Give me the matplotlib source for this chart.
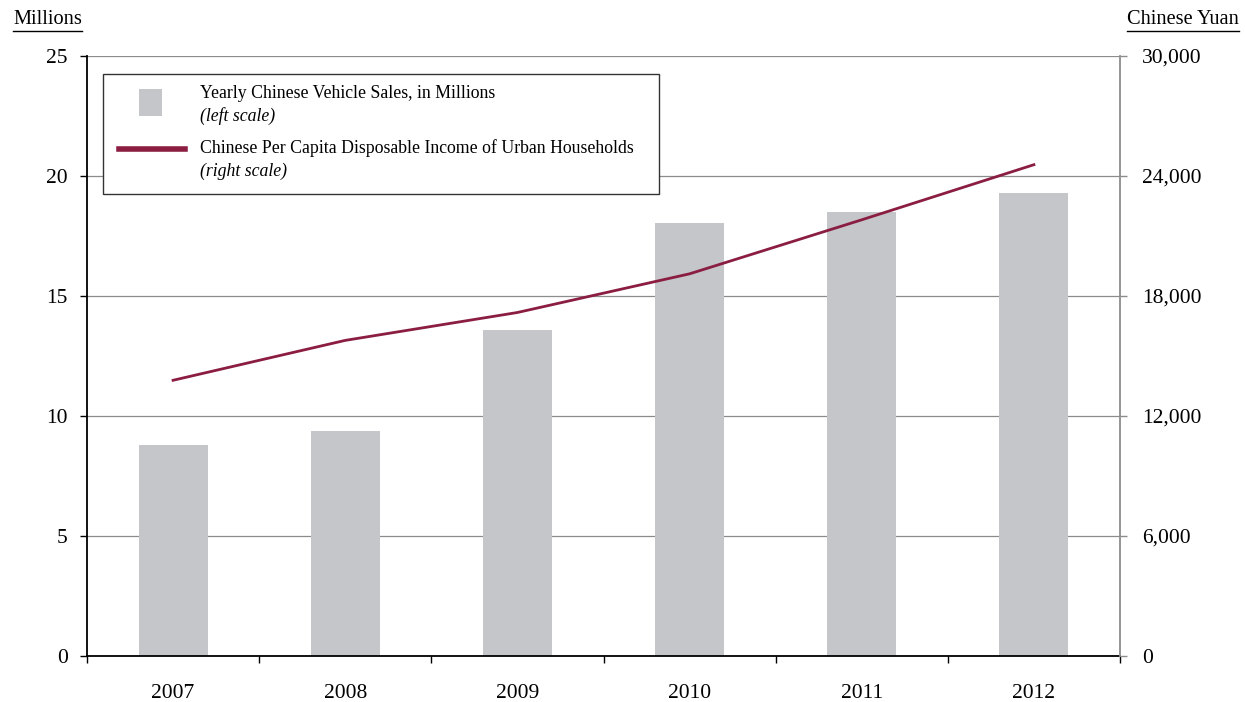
import matplotlib
matplotlib.use("Agg")
import matplotlib.pyplot as plt
from matplotlib.patches import Rectangle
from matplotlib.lines import Line2D
from matplotlib.ticker import FuncFormatter, FixedLocator

years = ["2007", "2008", "2009", "2010", "2011", "2012"]
vehicle_sales = [8.8, 9.38, 13.6, 18.04, 18.5, 19.3]
urban_income = [13786, 15781, 17175, 19109, 21810, 24565]
left_ticks = [0, 5, 10, 15, 20, 25]
right_ticks = [0, 6000, 12000, 18000, 24000, 30000]

BAR = "#C4C6CA"
LINE = "#8B1D41"
GRID = "#8C8C8C"
FONT = "Liberation Serif"
plt.rcParams["font.family"] = [FONT, "DejaVu Serif"]

fig = plt.figure(figsize=(12.45, 7.02), dpi=100)
ax = fig.add_axes([87/1245, 46/702, (1120-87)/1245, 600/702])
x = list(range(len(years)))
ax.bar(x, vehicle_sales, width=0.4, color=BAR, zorder=2)
ax.set_xlim(-0.5, len(years) - 0.5)
ax.set_ylim(0, 25)
ax.set_yticks(left_ticks)
ax.yaxis.grid(True, color=GRID, linewidth=0.9)
ax.set_axisbelow(True)
ax.set_xticks(x)
ax.set_xticklabels(years)
ax.xaxis.set_minor_locator(FixedLocator([i - 0.5 for i in range(len(years) + 1)]))
ax.tick_params(axis="x", which="major", length=0, pad=20, labelsize=15.5)
ax.tick_params(axis="x", which="minor", length=5, width=1, direction="out", color="black")
ax.tick_params(axis="y", length=5, width=1, direction="out", pad=9, labelsize=15.5, color="black")
for s in ["top", "right"]:
    ax.spines[s].set_visible(False)
ax.spines["left"].set_linewidth(1.3)
ax.spines["bottom"].set_linewidth(1.3)

ax2 = ax.twinx()
ax2.plot(x, urban_income, color=LINE, linewidth=2, zorder=3)
ax2.set_ylim(0, 30000)
ax2.set_yticks(right_ticks)
ax2.yaxis.set_major_formatter(FuncFormatter(lambda v, p: f"{int(v):,}"))
ax2.tick_params(axis="y", length=5, width=1, direction="out", pad=11, labelsize=15.5, color=GRID)
for s in ["top", "left", "bottom"]:
    ax2.spines[s].set_visible(False)
ax2.spines["right"].set_color(GRID)
ax2.spines["right"].set_linewidth(1.3)

# Legend (manual)
ax2.add_patch(Rectangle((0.0155, 0.77), 0.5382, 0.20, transform=ax2.transAxes,
                        facecolor="white", edgecolor="#333333", linewidth=1.0, zorder=5))
ax2.add_patch(Rectangle((0.0615 - 0.0111, 0.9225 - 0.0225), 0.0222, 0.045, transform=ax2.transAxes,
                        facecolor=BAR, edgecolor="none", zorder=6))
ax2.add_line(Line2D([0.031, 0.095], [0.845, 0.845], transform=ax2.transAxes,
                    color=LINE, linewidth=4, zorder=6))
tx = 0.1094
fs = 12.8
ax2.text(tx, 0.937, "Yearly Chinese Vehicle Sales, in Millions", transform=ax2.transAxes,
         fontsize=fs, va="center", zorder=7)
ax2.text(tx, 0.900, "(left scale)", transform=ax2.transAxes, fontsize=fs,
         style="italic", va="center", zorder=7)
ax2.text(tx, 0.847, "Chinese Per Capita Disposable Income of Urban Households",
         transform=ax2.transAxes, fontsize=fs, va="center", zorder=7)
ax2.text(tx, 0.808, "(right scale)", transform=ax2.transAxes, fontsize=fs,
         style="italic", va="center", zorder=7)

# Axis titles with underline
t1 = fig.text(13/1245, 1 - 19/702, "Millions", fontsize=14.7, ha="left", va="center")
t2 = fig.text(1239/1245, 1 - 19/702, "Chinese Yuan", fontsize=14.7, ha="right", va="center")
fig.canvas.draw()
r = fig.canvas.get_renderer()
for t in (t1, t2):
    bb = t.get_window_extent(r).transformed(fig.transFigure.inverted())
    yl = 1 - 31/702
    fig.add_artist(Line2D([bb.x0, bb.x1], [yl, yl], transform=fig.transFigure,
                          color="black", linewidth=1.0))

fig.savefig("out.png", dpi=100)
